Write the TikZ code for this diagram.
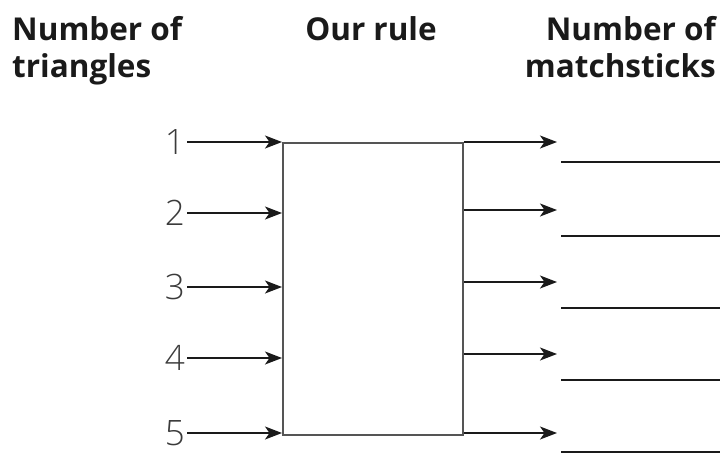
\documentclass[tikz,border=0pt]{standalone}
\usepackage{fontspec}
\setmainfont{Open Sans}
\newfontfamily\lightfont{Open Sans Light}
\usetikzlibrary{arrows.meta,positioning,calc}
\definecolor{boxgray}{HTML}{555555}
\definecolor{inkblack}{HTML}{1A1A1A}
\tikzset{
  headtxt/.style  = {font=\fontsize{31.5}{38}\selectfont\bfseries, inner sep=0pt, text=inkblack},
  numtxt/.style   = {font=\lightfont\fontsize{35}{38}\selectfont, inner sep=0pt, text=boxgray!70!black},
  rulebox/.style  = {rectangle, draw=boxgray, line width=1.8pt, minimum width=180pt,
                     minimum height=292pt, inner sep=0pt},
  flowarrow/.style= {-{Stealth[length=17pt,width=13pt,inset=4.5pt]}, line width=1.3pt, inkblack},
  blankline/.style= {line width=1.6pt, inkblack},
}
\begin{document}
\begin{tikzpicture}[x=1pt,y=-1pt]
\useasboundingbox (0,0) rectangle (725,455);

% headings
\node[headtxt, anchor=base west] (hin1) at (12,40) {Number of};
\node[headtxt, anchor=base west] (hin2) at (12,77) {triangles};
\node[headtxt, anchor=base] (hrule) at (371,40) {Our rule};
\node[headtxt, anchor=base east] (hout1) at (716,40) {Number of};
\node[headtxt, anchor=base east] (hout2) at (716,77) {matchsticks};

% the rule box
\node[rulebox, anchor=north west] (rule) at (282,142) {};

% inputs
\node[numtxt, anchor=east] (n1) at (185,142) {1};
\node[numtxt, anchor=east] (n2) at (185,213) {2};
\node[numtxt, anchor=east] (n3) at (185,287) {3};
\node[numtxt, anchor=east] (n4) at (185,358) {4};
\node[numtxt, anchor=east] (n5) at (185,433) {5};

\draw[flowarrow] ([xshift=2pt]n1.east) -- (rule.west |- n1.east);
\draw[flowarrow] ([xshift=2pt]n2.east) -- (rule.west |- n2.east);
\draw[flowarrow] ([xshift=2pt]n3.east) -- (rule.west |- n3.east);
\draw[flowarrow] ([xshift=2pt]n4.east) -- (rule.west |- n4.east);
\draw[flowarrow] ([xshift=2pt]n5.east) -- (rule.west |- n5.east);

% outputs
\coordinate (o1) at (557,142);
\coordinate (o2) at (557,210);
\coordinate (o3) at (557,282);
\coordinate (o4) at (557,354);
\coordinate (o5) at (557,433);

\draw[flowarrow] (rule.east |- o1) -- (o1);
\draw[flowarrow] (rule.east |- o2) -- (o2);
\draw[flowarrow] (rule.east |- o3) -- (o3);
\draw[flowarrow] (rule.east |- o4) -- (o4);
\draw[flowarrow] (rule.east |- o5) -- (o5);

% answer lines
\coordinate (a1) at (561,162);
\coordinate (a2) at (561,236);
\coordinate (a3) at (561,308);
\coordinate (a4) at (561,380);
\coordinate (a5) at (561,452);

\draw[blankline] (a1) -- ++(159,0);
\draw[blankline] (a2) -- ++(159,0);
\draw[blankline] (a3) -- ++(159,0);
\draw[blankline] (a4) -- ++(159,0);
\draw[blankline] (a5) -- ++(159,0);
\end{tikzpicture}
\end{document}
